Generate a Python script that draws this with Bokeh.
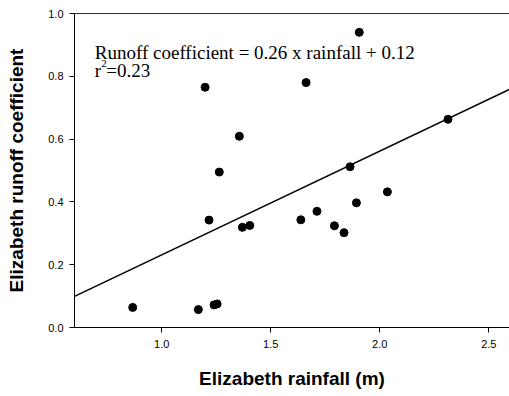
from bokeh.plotting import figure
from bokeh.models import LinearAxis, FixedTicker, PrintfTickFormatter, Label, Range1d
from bokeh.embed import file_html
from bokeh.resources import INLINE

# data
rainfall = [0.867, 1.168, 1.240, 1.254, 1.217, 1.370, 1.404, 1.638, 1.712, 1.199,
            1.356, 1.264, 1.906, 1.662, 2.313, 1.864, 2.035, 1.893, 1.792, 1.836]
runoff = [0.064, 0.057, 0.072, 0.075, 0.342, 0.319, 0.325, 0.343, 0.370, 0.765,
          0.609, 0.495, 0.940, 0.780, 0.663, 0.512, 0.432, 0.397, 0.324, 0.302]
fit_x = [0.6, 2.6]
fit_y = [0.099, 0.760]
x_ticks = [1.0, 1.5, 2.0, 2.5]
y_ticks = [0.0, 0.2, 0.4, 0.6, 0.8, 1.0]
eq_text = "Runoff coefficient = 0.26 x rainfall + 0.12"
r2_base = "r"
r2_sup = "2"
r2_rest = "=0.23"

p = figure(width=509, height=396, output_backend="svg", toolbar_location=None,
           x_range=Range1d(0.6, 2.595), y_range=Range1d(0.0, 1.0),
           min_border_left=74, min_border_right=0, min_border_top=13, min_border_bottom=69)
p.outline_line_color = None
p.xgrid.visible = False
p.ygrid.visible = False
p.background_fill_color = "white"
p.border_fill_color = "white"

p.line(fit_x, fit_y, line_color="black", line_width=1.5)
p.scatter(rainfall, runoff, size=8, fill_color="black", line_color="black")

for ax in (p.xaxis[0], p.yaxis[0]):
    ax.axis_line_color = "black"
    ax.major_tick_line_color = "black"
    ax.major_tick_out = 5
    ax.major_tick_in = 0
    ax.minor_tick_line_color = None
    ax.major_label_text_font = "Liberation Sans"
    ax.major_label_text_font_size = "11px"
    ax.major_label_text_color = "black"
    ax.axis_label_text_font = "Liberation Sans"
    ax.axis_label_text_font_size = "19px"
    ax.axis_label_text_font_style = "bold"
    ax.axis_label_text_color = "black"
    ax.formatter = PrintfTickFormatter(format="%.1f")

p.xaxis[0].ticker = FixedTicker(ticks=x_ticks)
p.yaxis[0].ticker = FixedTicker(ticks=y_ticks)
p.xaxis[0].axis_label = "Elizabeth rainfall (m)"
p.yaxis[0].axis_label = "Elizabeth runoff coefficient"
p.xaxis[0].major_label_standoff = 7
p.yaxis[0].major_label_standoff = 6
p.xaxis[0].axis_label_standoff = 17
p.yaxis[0].axis_label_standoff = 18

top = LinearAxis(ticker=FixedTicker(ticks=[]), major_label_text_font_size="0px",
                 axis_line_color="#333333", major_tick_line_color=None,
                 minor_tick_line_color=None)
p.add_layout(top, "above")

tx = 0.693
p.add_layout(Label(x=tx, y=0.877, text=eq_text, text_font="Liberation Serif",
                   text_font_size="19px", text_baseline="alphabetic", text_color="black"))
p.add_layout(Label(x=tx, y=0.818, text=r2_base, text_font="Liberation Serif",
                   text_font_size="19px", text_baseline="alphabetic", text_color="black"))
p.add_layout(Label(x=tx, y=0.818, x_offset=6.5, y_offset=7, text=r2_sup,
                   text_font="Liberation Serif", text_font_size="11px",
                   text_baseline="alphabetic", text_color="black"))
p.add_layout(Label(x=tx, y=0.818, x_offset=11.5, text=r2_rest, text_font="Liberation Serif",
                   text_font_size="19px", text_baseline="alphabetic", text_color="black"))

open("out.html", "w").write(file_html(p, INLINE))
